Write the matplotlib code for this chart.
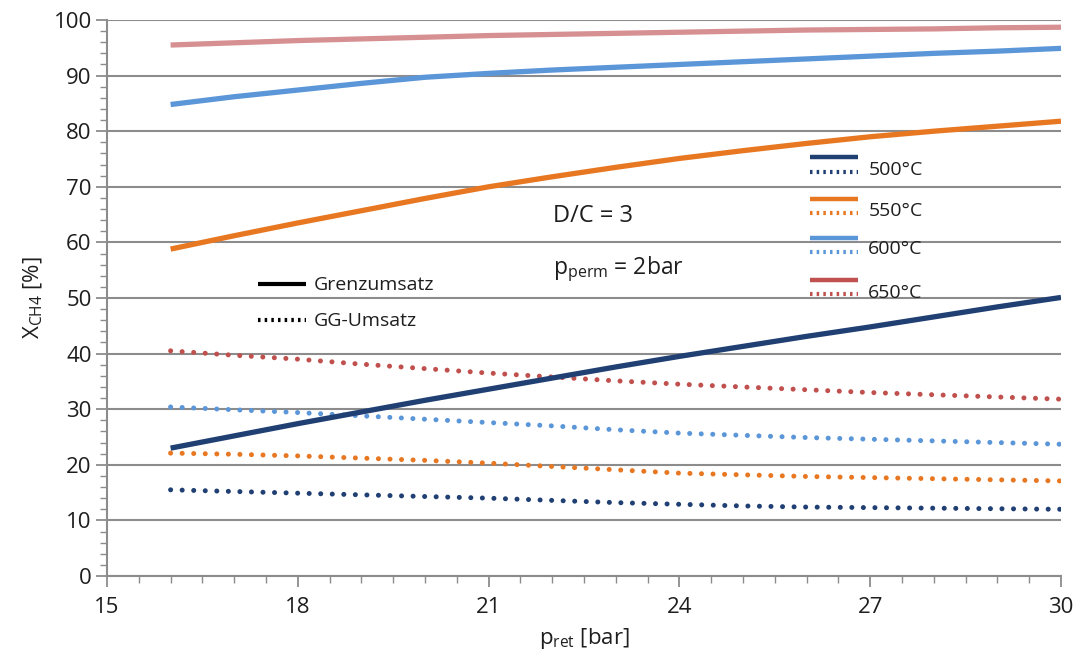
import matplotlib
matplotlib.use("Agg")
import matplotlib.pyplot as plt
from matplotlib.lines import Line2D
from matplotlib.ticker import MultipleLocator

plt.rcParams['font.family'] = ['Open Sans', 'DejaVu Sans']
plt.rcParams['mathtext.fontset'] = 'custom'
plt.rcParams['mathtext.rm'] = 'Open Sans'
plt.rcParams['mathtext.it'] = 'Open Sans:italic'

# retentate pressure [bar]
p_ret = [16, 17, 18, 19, 20, 21, 22, 23, 24, 25, 26, 27, 28, 29, 30]

# limiting conversion (Grenzumsatz) [%]
grenz_500 = [23.0, 25.2, 27.4, 29.5, 31.6, 33.6, 35.6, 37.6, 39.5, 41.3, 43.1, 44.8, 46.6, 48.4, 50.1]
grenz_550 = [58.8, 61.2, 63.5, 65.7, 67.9, 70.0, 71.8, 73.5, 75.1, 76.5, 77.8, 79.0, 80.0, 80.9, 81.8]
grenz_600 = [84.8, 86.2, 87.4, 88.6, 89.7, 90.4, 91.0, 91.5, 92.0, 92.5, 93.0, 93.5, 94.0, 94.4, 94.9]
grenz_650 = [95.5, 95.9, 96.3, 96.6, 96.9, 97.2, 97.4, 97.6, 97.8, 98.0, 98.2, 98.3, 98.4, 98.6, 98.7]

# equilibrium conversion (GG-Umsatz) [%]
gg_500 = [15.5, 15.2, 14.9, 14.6, 14.3, 14.0, 13.6, 13.2, 12.9, 12.6, 12.4, 12.3, 12.2, 12.1, 12.0]
gg_550 = [22.1, 21.9, 21.6, 21.2, 20.8, 20.3, 19.7, 19.1, 18.5, 18.2, 17.9, 17.7, 17.5, 17.3, 17.1]
gg_600 = [30.4, 29.9, 29.4, 28.8, 28.2, 27.6, 27.0, 26.3, 25.7, 25.3, 24.9, 24.6, 24.3, 24.0, 23.7]
gg_650 = [40.5, 39.7, 39.0, 38.1, 37.3, 36.5, 35.8, 35.1, 34.5, 34.0, 33.5, 33.0, 32.6, 32.2, 31.8]

temps = ['500°C', '550°C', '600°C', '650°C']
colors = ['#203F73', '#E87722', '#5B96D8', '#C0504D']
solid_colors = ['#203F73', '#E87722', '#5B96D8', '#D69092']

grenz = [grenz_500, grenz_550, grenz_600, grenz_650]
gg = [gg_500, gg_550, gg_600, gg_650]

text_color = '#1E1E1E'

fig = plt.figure(figsize=(10.77, 6.64), dpi=100)
ax = fig.add_axes([107 / 1077, 1 - 576 / 664, 954 / 1077, 556 / 664])

dot_style = (0, (0.01, 2.3))
for e, c in zip(gg, colors):
    ax.plot(p_ret, e, color=c, lw=3.6, linestyle=dot_style,
            dash_capstyle='round', zorder=3)
for g, cs in zip(grenz, solid_colors):
    ax.plot(p_ret, g, color=cs, lw=3.8, solid_capstyle='butt', zorder=4)

ax.set_xlim(15, 30)
ax.set_ylim(0, 100)
ax.xaxis.set_major_locator(MultipleLocator(3))
ax.xaxis.set_minor_locator(MultipleLocator(0.5))
ax.yaxis.set_major_locator(MultipleLocator(10))
ax.yaxis.set_minor_locator(MultipleLocator(2))

ax.grid(axis='y', which='major', color='#8C8C8C', lw=1.5, zorder=1)
ax.set_axisbelow(True)
for s in ['top', 'right']:
    ax.spines[s].set_visible(False)
for s in ['left', 'bottom']:
    ax.spines[s].set_color('#8C8C8C')
    ax.spines[s].set_linewidth(1.5)

ax.tick_params(which='major', direction='out', length=8, width=1.3,
               color='#8C8C8C', labelsize=16, labelcolor=text_color, pad=3)
ax.tick_params(which='minor', direction='out', length=5, width=1.0, color='#8C8C8C')
ax.tick_params(axis='x', which='major', pad=7)

ax.set_xlabel(r'p$_{\mathrm{ret}}$ [bar]', fontsize=16, color=text_color, labelpad=6)
ax.set_ylabel(r'X$_{\mathrm{CH4}}$ [%]', fontsize=16, color=text_color, labelpad=6)

# temperature key
key_y = [(0.754, 0.727, 0.730), (0.678, 0.653, 0.656),
         (0.608, 0.583, 0.588), (0.532, 0.507, 0.509)]
for (ys, yd, yt), c, t in zip(key_y, colors, temps):
    ax.add_line(Line2D([0.737, 0.787], [ys, ys], transform=ax.transAxes,
                       color=c, lw=3.2, solid_capstyle='butt', zorder=5))
    ax.add_line(Line2D([0.737, 0.787], [yd, yd], transform=ax.transAxes,
                       color=c, lw=3.0, linestyle=(0, (0.6, 1.0)),
                       dash_capstyle='butt', zorder=5))
    ax.text(0.798, yt, t, transform=ax.transAxes, fontsize=14,
            color=text_color, va='center', ha='left', zorder=5)

# line-style key
ax.add_line(Line2D([0.158, 0.209], [0.525, 0.525], transform=ax.transAxes,
                   color='black', lw=3.0, solid_capstyle='butt', zorder=5))
ax.text(0.217, 0.523, 'Grenzumsatz', transform=ax.transAxes, fontsize=14,
        color=text_color, va='center', ha='left')
ax.add_line(Line2D([0.158, 0.209], [0.460, 0.460], transform=ax.transAxes,
                   color='black', lw=3.0, linestyle=(0, (0.6, 1.0)),
                   dash_capstyle='butt', zorder=5))
ax.text(0.217, 0.459, 'GG-Umsatz', transform=ax.transAxes, fontsize=14,
        color=text_color, va='center', ha='left')

ax.text(0.468, 0.647, 'D/C = 3', transform=ax.transAxes, fontsize=17,
        color=text_color, va='center', ha='left')
ax.text(0.468, 0.552, r'p$_{\mathrm{perm}}$ = 2bar', transform=ax.transAxes,
        fontsize=16.5, color=text_color, va='center', ha='left')

fig.savefig('out.png', dpi=100)
